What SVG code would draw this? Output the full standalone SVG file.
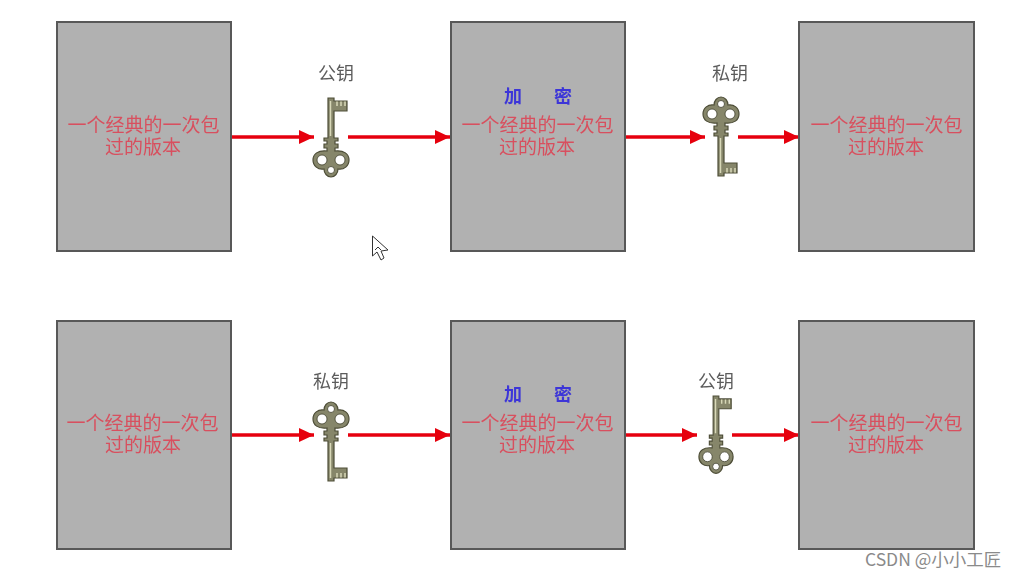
<svg xmlns="http://www.w3.org/2000/svg" width="1017" height="579" viewBox="0 0 1017 579">
<style>
.box{fill:#b1b1b1;stroke:#585858;stroke-width:2}
text{font-family:"Noto Sans CJK SC","Liberation Serif",sans-serif;text-anchor:middle}
.doc{fill:#d8505e;font-size:19px}
.enc{fill:#3c36d8;font-size:18px;font-weight:700}
.lab{fill:#5c5c5c;font-size:18px}
.wm{fill:#8a8a8a;font-size:17.500px;text-anchor:start}
.arr{stroke:#e6000e;stroke-width:3.500;fill:none;marker-end:url(#ah)}
</style>
<defs>
<marker id="ah" markerUnits="userSpaceOnUse" markerWidth="16" markerHeight="16" refX="15" refY="8" orient="auto">
<path d="M0 1L15 8L0 15Z" fill="#e6000e"/>
</marker>
<filter id="soft" x="-5%" y="-5%" width="110%" height="110%"><feGaussianBlur stdDeviation="0.6"/></filter>
<g id="key" stroke="#4e4e38" stroke-width="1.200">
<path fill="#86866a" d="M-3 0H3V3H16V13H3V40H7V43H4V46H7V50H4V53C13 52 18 56 18 62C18 68 13 72 7 71C7 75 4 79 0 79C-4 79-7 75-7 71C-13 72-18 68-18 62C-18 56-13 52-4 53V50H-7V46H-4V43H-7V40H-3Z"/>
<path fill="#fff" stroke="#3f3f2c" stroke-width=".8" d="M4 62a5 5 0 1 0 10 0a5 5 0 1 0-10 0ZM-14 62a5 5 0 1 0 10 0a5 5 0 1 0-10 0ZM-3.500 72a3.500 3.500 0 1 0 7 0a3.500 3.500 0 1 0-7 0Z"/>
<path fill="none" stroke="#d8d8b8" stroke-width="1.500" d="M6 3.500V8M10 3.500V8M14 3.500V8M-0.500 3V38"/>
</g>
</defs>
<rect width="1017" height="579" fill="#fff"/>
<g filter="url(#soft)">
<g id="connectors">
<path class="arr" d="M231 137H314"/>
<path class="arr" d="M348 137H450"/>
<path class="arr" d="M625 137H705"/>
<path class="arr" d="M738 137H799"/>
<path class="arr" d="M231 435H314"/>
<path class="arr" d="M348 435H450"/>
<path class="arr" d="M625 435H697"/>
<path class="arr" d="M732 435H799"/>
</g>
<g id="doc-top-1"><rect class="box" x="57" y="22" width="174" height="229"/><text class="doc" x="143.500" y="132">一个经典的一次包</text><text class="doc" x="143" y="154">过的版本</text></g>
<g id="doc-top-2"><rect class="box" x="451" y="22" width="174" height="229"/><text class="enc" x="513" y="103">加</text><text class="enc" x="563" y="103">密</text><text class="doc" x="537.500" y="132">一个经典的一次包</text><text class="doc" x="537" y="154">过的版本</text></g>
<g id="doc-top-3"><rect class="box" x="799" y="22" width="175" height="229"/><text class="doc" x="886.500" y="132">一个经典的一次包</text><text class="doc" x="886" y="154">过的版本</text></g>
<g id="doc-bot-1"><rect class="box" x="57" y="321" width="174" height="228"/><text class="doc" x="142.500" y="430">一个经典的一次包</text><text class="doc" x="143" y="452">过的版本</text></g>
<g id="doc-bot-2"><rect class="box" x="451" y="321" width="174" height="228"/><text class="enc" x="513" y="401">加</text><text class="enc" x="563" y="401">密</text><text class="doc" x="537.500" y="430">一个经典的一次包</text><text class="doc" x="537" y="452">过的版本</text></g>
<g id="doc-bot-3"><rect class="box" x="799" y="321" width="175" height="228"/><text class="doc" x="886.500" y="430">一个经典的一次包</text><text class="doc" x="886" y="452">过的版本</text></g>
<g id="key-top-public"><text class="lab" x="336" y="80">公钥</text><use href="#key" transform="translate(331 98)"/></g>
<g id="key-top-private"><text class="lab" x="730" y="80">私钥</text><use href="#key" transform="translate(721 176) scale(1 -1)"/></g>
<g id="key-bot-private"><text class="lab" x="331" y="388">私钥</text><use href="#key" transform="translate(331 481) scale(1 -1)"/></g>
<g id="key-bot-public"><text class="lab" x="716" y="388">公钥</text><use href="#key" transform="translate(716 396) scale(.95 .98)"/></g>
<path id="cursor" d="M372.500 236V256L377 252L381 260L384 258L381 251L388 250Z" fill="#fff" stroke="#333" stroke-width="1"/>
<path d="M375 250L378 247L381 250" fill="none" stroke="#333" stroke-width="1"/>
</g>
<text class="wm" x="865" y="566">CSDN @小小工匠</text>
</svg>
